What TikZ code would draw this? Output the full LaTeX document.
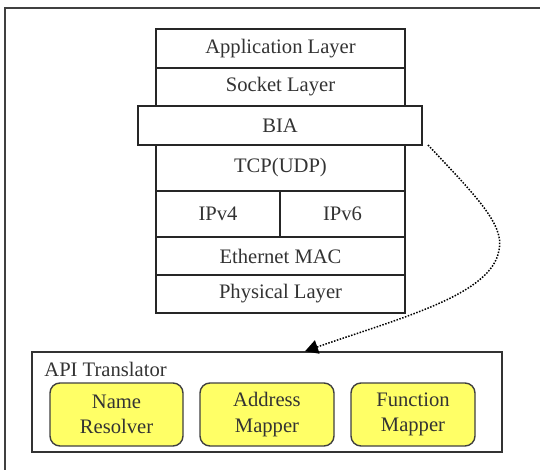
\documentclass[tikz,border=0pt]{standalone}
\usepackage{fontspec}
\setmainfont{Liberation Serif}
\usetikzlibrary{arrows.meta}
\definecolor{txt}{HTML}{333333}
\definecolor{yel}{HTML}{FFFF66}
\begin{document}
\begin{tikzpicture}[x=0.5pt,y=-0.5pt,
  every node/.style={font=\fontsize{10.3}{12.8}\selectfont, text=txt},
  layer/.style={draw=black!85, line width=1pt, fill=white, inner sep=0pt, outer sep=0pt, minimum width=124.5pt},
  comp/.style={draw=black!75, line width=0.7pt, fill=yel, rounded corners=5pt, inner sep=0pt, minimum height=31.5pt, align=center},
  link/.style={line width=0.75pt, dash pattern=on 0.75pt off 0.75pt, -{Triangle[length=6.5pt,width=7pt]}}]
\useasboundingbox (0,0) rectangle (540,470);
\draw[black!75, line width=0.75pt] (540,8) -- (5,8) -- (5,470);
% protocol stack
\node[layer, minimum height=19.5pt] (app) at (280.5,48.5) {Application Layer};
\node[layer, minimum height=19pt] (sock) at (280.5,87) {Socket Layer};
\node[layer, minimum height=23pt] (tcp) at (280.5,168) {TCP(UDP)};
\node[layer, minimum width=62pt, minimum height=23pt] (ipv4) at (218,214) {IPv4};
\node[layer, minimum width=62.5pt, minimum height=23pt] (ipv6) at (342.5,214) {IPv6};
\node[layer, minimum height=19pt] (eth) at (280.5,256) {Ethernet MAC};
\node[layer, minimum height=19pt] (phy) at (280.5,294) {Physical Layer};
\node[layer, line width=0.8pt, minimum width=142pt, minimum height=19.5pt] (bia) at (280,125.5) {BIA};
% API translator
\node[draw=black!80, line width=0.75pt, inner sep=0pt, minimum width=235pt, minimum height=50pt] (api) at (267,402) {};
\node[anchor=west, inner sep=0pt] (apil) at (44,369) {API Translator};
\node[comp, minimum width=66.5pt] (name) at (116.5,414.5) {Name\\Resolver};
\node[comp, minimum width=67pt] (addr) at (267,414.5) {Address\\Mapper};
\node[comp, minimum width=62pt] (func) at (413,414.5) {Function\\Mapper};
% link
\coordinate (s) at ([xshift=3pt]bia.south east);
\coordinate (e) at ([xshift=19pt]api.north);
\draw[link] (s) .. controls (475,195) and (505,225) .. (499,250) .. controls (492,295) and (400,318) .. (e);
\end{tikzpicture}
\end{document}
